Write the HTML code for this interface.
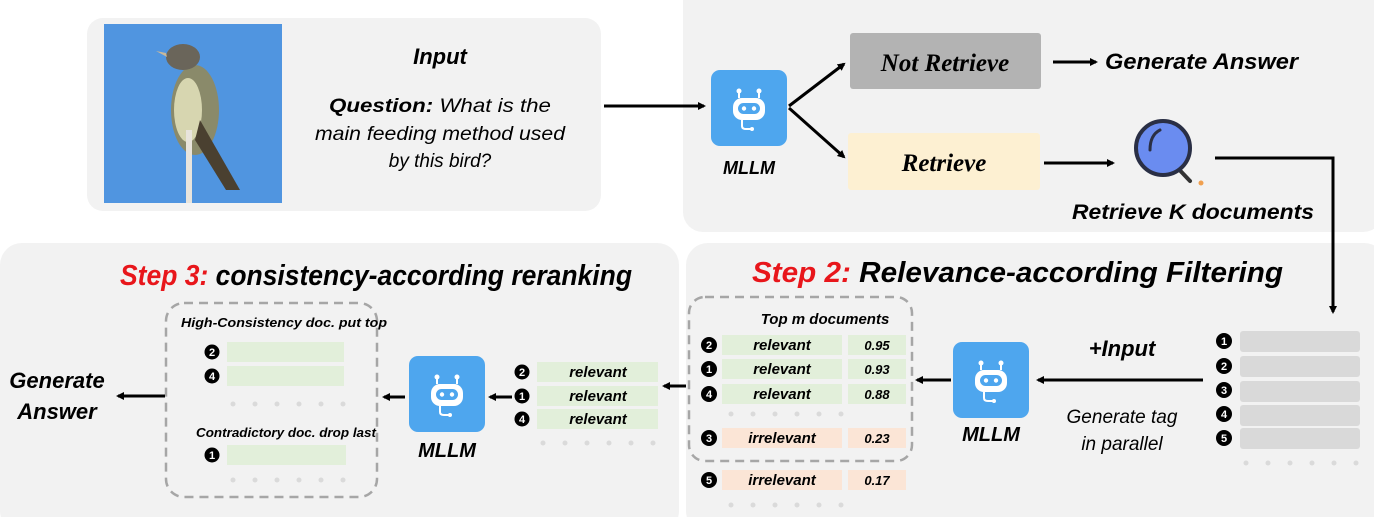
<!DOCTYPE html>
<html><head><meta charset="utf-8"><style>
html,body{margin:0;padding:0;background:#fff;}
svg{display:block;}
text{font-family:"Liberation Sans",sans-serif;}
.b{font-weight:bold;font-style:italic;}
.i{font-style:italic;}
.n{font-weight:bold;font-size:11px;fill:#fff;}
</style></head><body>
<svg width="1374" height="517" viewBox="0 0 1374 517" xmlns="http://www.w3.org/2000/svg">
<defs>
<marker id="ah" markerWidth="8" markerHeight="8" refX="6" refY="4" orient="auto" markerUnits="userSpaceOnUse">
<path d="M0,0 L8,4 L0,8 z" fill="#000"/></marker>
<g id="bot">
<rect x="0" y="0" width="76" height="76" rx="9" fill="#4ea6ee"/>
<line x1="28" y1="22" x2="28" y2="28" stroke="#fff" stroke-width="2"/>
<line x1="48" y1="22" x2="48" y2="28" stroke="#fff" stroke-width="2"/>
<circle cx="28" cy="21" r="2.5" fill="#fff"/><circle cx="48" cy="21" r="2.5" fill="#fff"/>
<rect x="22" y="28" width="32" height="22" rx="9" fill="#fff"/>
<rect x="27" y="33" width="22" height="11" rx="5.5" fill="#4ea6ee"/>
<circle cx="33" cy="38.5" r="2.2" fill="#fff"/><circle cx="43" cy="38.5" r="2.2" fill="#fff"/>
<path d="M31,50 L31,56 Q31,59 35,59 L40,59" stroke="#fff" stroke-width="2" fill="none"/>
<circle cx="41" cy="59" r="2" fill="#fff"/>
</g>
<g id="dots" fill="#dadada">
<circle cx="0" cy="0" r="2.5"/><circle cx="22" cy="0" r="2.5"/><circle cx="44" cy="0" r="2.5"/><circle cx="66" cy="0" r="2.5"/><circle cx="88" cy="0" r="2.5"/><circle cx="110" cy="0" r="2.5"/>
</g>
</defs>

<rect x="87" y="18" width="514" height="193" rx="16" fill="#f2f2f2"/>
<rect x="683" y="-20" width="700" height="252" rx="20" fill="#f2f2f2"/>
<rect x="0" y="243" width="679" height="290" rx="22" fill="#f2f2f2"/>
<rect x="686" y="243" width="700" height="290" rx="22" fill="#f2f2f2"/>

<rect x="104" y="24" width="178" height="179" fill="#4a90dc"/>
<rect x="104" y="24" width="178" height="179" fill="#5a9ee6" opacity="0.4"/>
<ellipse cx="195" cy="110" rx="24" ry="45" fill="#8a8a6a"/>
<ellipse cx="188" cy="110" rx="14" ry="32" fill="#d7d6b0"/>
<ellipse cx="183" cy="57" rx="17" ry="13" fill="#6a655a"/>
<path d="M166,53 L156,51 L167,57 z" fill="#c9b89a"/>
<path d="M200,120 L240,190 L226,190 L195,140 z" fill="#4a4030"/>
<rect x="186" y="130" width="6" height="73" fill="#e8e4dc"/>

<text x="440" y="64" text-anchor="middle" class="b" font-size="22">Input</text>
<text x="440" y="112" text-anchor="middle" font-size="19" textLength="222" lengthAdjust="spacingAndGlyphs"><tspan class="b">Question:</tspan><tspan class="i"> What is the</tspan></text>
<text x="440" y="140" text-anchor="middle" class="i" font-size="19" textLength="250" lengthAdjust="spacingAndGlyphs">main feeding method used</text>
<text x="440" y="167" text-anchor="middle" class="i" font-size="19">by this bird?</text>
<line x1="604" y1="106" x2="704" y2="106" stroke="#000" stroke-width="3" marker-end="url(#ah)"/>

<use href="#bot" x="711" y="70"/>
<text x="749" y="174" text-anchor="middle" class="b" font-size="18">MLLM</text>
<line x1="789" y1="106" x2="844" y2="64" stroke="#000" stroke-width="3" marker-end="url(#ah)"/>
<line x1="789" y1="108" x2="844" y2="157" stroke="#000" stroke-width="3" marker-end="url(#ah)"/>
<rect x="850" y="33" width="191" height="56" rx="3" fill="#b3b3b3"/>
<text x="945" y="71" text-anchor="middle" font-weight="bold" font-style="italic" font-size="25" style="font-family:'Liberation Serif',serif">Not Retrieve</text>
<line x1="1053" y1="62" x2="1096" y2="62" stroke="#000" stroke-width="3" marker-end="url(#ah)"/>
<text x="1105" y="69" class="b" font-size="22" textLength="193" lengthAdjust="spacingAndGlyphs">Generate Answer</text>
<rect x="848" y="133" width="192" height="57" rx="3" fill="#fdf0d2"/>
<text x="944" y="171" text-anchor="middle" font-weight="bold" font-style="italic" font-size="25" style="font-family:'Liberation Serif',serif">Retrieve</text>
<line x1="1044" y1="163" x2="1113" y2="163" stroke="#000" stroke-width="3" marker-end="url(#ah)"/>
<line x1="1172" y1="162" x2="1190" y2="181" stroke="#333" stroke-width="4" stroke-linecap="round"/>
<circle cx="1163" cy="148" r="27" fill="#6a8cf0" stroke="#2a2f45" stroke-width="4"/>
<path d="M1150,150 Q1150,135 1160,130" stroke="#2a2f45" stroke-width="3" fill="none" stroke-linecap="round"/>
<circle cx="1201" cy="183" r="2.5" fill="#f0a050"/>
<polyline points="1215,158 1333,158 1333,312" fill="none" stroke="#000" stroke-width="3" marker-end="url(#ah)"/>
<text x="1193" y="219" text-anchor="middle" class="b" font-size="21" textLength="242" lengthAdjust="spacingAndGlyphs">Retrieve K documents</text>

<text x="752" y="282" class="b" font-size="29" textLength="531" lengthAdjust="spacingAndGlyphs"><tspan fill="#e8161b">Step 2:</tspan> Relevance-according Filtering</text>
<g>
<rect x="1240" y="331" width="120" height="21" rx="3" fill="#d9d9d9"/>
<rect x="1240" y="356" width="120" height="21" rx="3" fill="#d9d9d9"/>
<rect x="1240" y="381" width="120" height="21" rx="3" fill="#d9d9d9"/>
<rect x="1240" y="405" width="120" height="21" rx="3" fill="#d9d9d9"/>
<rect x="1240" y="428" width="120" height="21" rx="3" fill="#d9d9d9"/>
<circle cx="1224" cy="341" r="8"/><text x="1224" y="345" text-anchor="middle" class="n">1</text>
<circle cx="1224" cy="366" r="8"/><text x="1224" y="370" text-anchor="middle" class="n">2</text>
<circle cx="1224" cy="390" r="8"/><text x="1224" y="394" text-anchor="middle" class="n">3</text>
<circle cx="1224" cy="414" r="8"/><text x="1224" y="418" text-anchor="middle" class="n">4</text>
<circle cx="1224" cy="438" r="8"/><text x="1224" y="442" text-anchor="middle" class="n">5</text>
<use href="#dots" x="1246" y="463"/>
</g>
<line x1="1203" y1="380" x2="1038" y2="380" stroke="#000" stroke-width="3" marker-end="url(#ah)"/>
<text x="1122" y="356" text-anchor="middle" class="b" font-size="22">+Input</text>
<text x="1122" y="423" text-anchor="middle" class="i" font-size="19">Generate tag</text>
<text x="1122" y="450" text-anchor="middle" class="i" font-size="19">in parallel</text>
<use href="#bot" x="953" y="342"/>
<text x="991" y="441" text-anchor="middle" class="b" font-size="20">MLLM</text>
<line x1="951" y1="380" x2="917" y2="380" stroke="#000" stroke-width="3" marker-end="url(#ah)"/>
<rect x="689" y="297" width="223" height="164" rx="16" fill="none" stroke="#a6a6a6" stroke-width="2.5" stroke-dasharray="9,6"/>
<text x="825" y="324" text-anchor="middle" class="b" font-size="15">Top m documents</text>
<g font-size="15">
<rect x="722" y="335" width="120" height="20" fill="#e2efda"/><rect x="848" y="335" width="58" height="20" fill="#e2efda"/>
<rect x="722" y="359" width="120" height="20" fill="#e2efda"/><rect x="848" y="359" width="58" height="20" fill="#e2efda"/>
<rect x="722" y="384" width="120" height="20" fill="#e2efda"/><rect x="848" y="384" width="58" height="20" fill="#e2efda"/>
<rect x="722" y="428" width="120" height="20" fill="#fbe5d6"/><rect x="848" y="428" width="58" height="20" fill="#fbe5d6"/>
<rect x="722" y="470" width="120" height="20" fill="#fbe5d6"/><rect x="848" y="470" width="58" height="20" fill="#fbe5d6"/>
<text x="782" y="350" text-anchor="middle" class="b">relevant</text><text x="877" y="350" text-anchor="middle" class="b" font-size="13">0.95</text>
<text x="782" y="374" text-anchor="middle" class="b">relevant</text><text x="877" y="374" text-anchor="middle" class="b" font-size="13">0.93</text>
<text x="782" y="399" text-anchor="middle" class="b">relevant</text><text x="877" y="399" text-anchor="middle" class="b" font-size="13">0.88</text>
<text x="782" y="443" text-anchor="middle" class="b">irrelevant</text><text x="877" y="443" text-anchor="middle" class="b" font-size="13">0.23</text>
<text x="782" y="485" text-anchor="middle" class="b">irrelevant</text><text x="877" y="485" text-anchor="middle" class="b" font-size="13">0.17</text>
</g>
<circle cx="709" cy="345" r="8"/><text x="709" y="349" text-anchor="middle" class="n">2</text>
<circle cx="709" cy="369" r="8"/><text x="709" y="373" text-anchor="middle" class="n">1</text>
<circle cx="709" cy="394" r="8"/><text x="709" y="398" text-anchor="middle" class="n">4</text>
<circle cx="709" cy="438" r="8"/><text x="709" y="442" text-anchor="middle" class="n">3</text>
<circle cx="709" cy="480" r="8"/><text x="709" y="484" text-anchor="middle" class="n">5</text>
<use href="#dots" x="731" y="414"/>
<use href="#dots" x="731" y="505"/>

<text x="120" y="285" class="b" font-size="29" textLength="512" lengthAdjust="spacingAndGlyphs"><tspan fill="#e8161b">Step 3:</tspan> consistency-according reranking</text>
<line x1="686" y1="386" x2="664" y2="386" stroke="#000" stroke-width="3" marker-end="url(#ah)"/>
<rect x="537" y="362" width="121" height="20" fill="#e2efda"/>
<rect x="537" y="386" width="121" height="20" fill="#e2efda"/>
<rect x="537" y="409" width="121" height="20" fill="#e2efda"/>
<g font-size="15">
<text x="598" y="377" text-anchor="middle" class="b">relevant</text>
<text x="598" y="401" text-anchor="middle" class="b">relevant</text>
<text x="598" y="424" text-anchor="middle" class="b">relevant</text>
</g>
<circle cx="522" cy="372" r="7.5"/><text x="522" y="376" text-anchor="middle" class="n">2</text>
<circle cx="522" cy="396" r="7.5"/><text x="522" y="400" text-anchor="middle" class="n">1</text>
<circle cx="522" cy="419" r="7.5"/><text x="522" y="423" text-anchor="middle" class="n">4</text>
<use href="#dots" x="543" y="443"/>
<line x1="512" y1="397" x2="490" y2="397" stroke="#000" stroke-width="3" marker-end="url(#ah)"/>
<use href="#bot" x="409" y="356"/>
<text x="447" y="457" text-anchor="middle" class="b" font-size="20">MLLM</text>
<line x1="405" y1="397" x2="384" y2="397" stroke="#000" stroke-width="3" marker-end="url(#ah)"/>
<rect x="166" y="303" width="211" height="194" rx="18" fill="none" stroke="#a6a6a6" stroke-width="2.5" stroke-dasharray="9,6"/>
<text x="284" y="327" text-anchor="middle" class="b" font-size="12.5" textLength="206" lengthAdjust="spacingAndGlyphs">High-Consistency doc. put top</text>
<rect x="227" y="342" width="117" height="20" fill="#e2efda"/>
<rect x="227" y="366" width="117" height="20" fill="#e2efda"/>
<circle cx="212" cy="352" r="7.5"/><text x="212" y="356" text-anchor="middle" class="n">2</text>
<circle cx="212" cy="376" r="7.5"/><text x="212" y="380" text-anchor="middle" class="n">4</text>
<use href="#dots" x="233" y="404"/>
<text x="286" y="437" text-anchor="middle" class="b" font-size="12.5" textLength="180" lengthAdjust="spacingAndGlyphs">Contradictory doc. drop last</text>
<rect x="227" y="445" width="119" height="20" fill="#e2efda"/>
<circle cx="212" cy="455" r="7.5"/><text x="212" y="459" text-anchor="middle" class="n">1</text>
<use href="#dots" x="233" y="480"/>
<line x1="165" y1="396" x2="118" y2="396" stroke="#000" stroke-width="3" marker-end="url(#ah)"/>
<text x="57" y="388" text-anchor="middle" class="b" font-size="22">Generate</text>
<text x="57" y="419" text-anchor="middle" class="b" font-size="22">Answer</text>
</svg>
</body></html>
